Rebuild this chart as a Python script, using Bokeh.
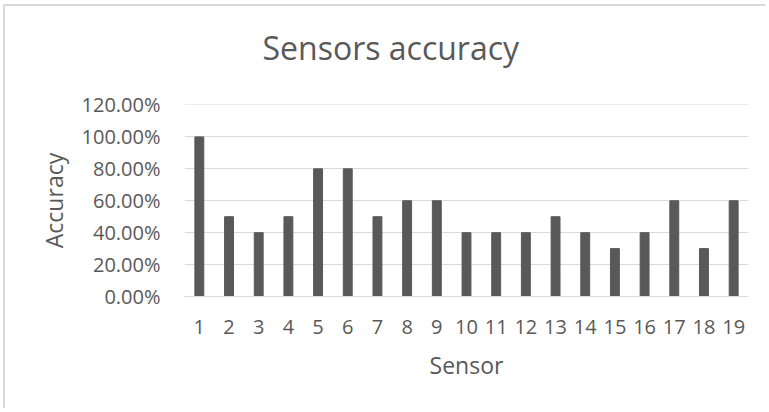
from bokeh.plotting import figure
from bokeh.models import Range1d, FixedTicker, NumeralTickFormatter, Title
from bokeh.embed import file_html
from bokeh.resources import INLINE

sensors = list(range(1, 20))
accuracy = [1.0, 0.5, 0.4, 0.5, 0.8, 0.8, 0.5, 0.6, 0.6, 0.4,
            0.4, 0.4, 0.5, 0.4, 0.3, 0.4, 0.6, 0.3, 0.6]
y_ticks = [0, 0.2, 0.4, 0.6, 0.8, 1.0, 1.2]
title_text = "Sensors accuracy"
x_title = "Sensor"
y_title = "Accuracy"

FONT = "Open Sans"
TXT = "#595959"

p = figure(width=762, height=404, output_backend="svg", toolbar_location=None,
           x_range=Range1d(0.5, 19.5), y_range=Range1d(0, 1.203),
           min_border_left=179, min_border_right=19,
           min_border_top=98, min_border_bottom=114,
           title_location=None)
p.styles = {"border-top": "2px solid #d9d9d9", "border-left": "2px solid #d9d9d9",
            "margin-left": "3px", "margin-top": "4px"}
p.outline_line_color = None
p.background_fill_color = "white"
p.border_fill_color = "white"

# spacer between the frame and the title
p.add_layout(Title(text=" ", text_font_size="1px", standoff=28), "above")
p.add_layout(Title(text=title_text, align="left", offset=78, standoff=10,
                   text_font=FONT, text_font_size="32px",
                   text_font_style="normal", text_color=TXT), "above")

p.vbar(x=sensors, top=accuracy, width=0.30, color="#595959")

p.xaxis.ticker = FixedTicker(ticks=sensors)
p.yaxis.ticker = FixedTicker(ticks=y_ticks)
p.yaxis.formatter = NumeralTickFormatter(format="0.00%")

for ax in (p.xaxis[0], p.yaxis[0]):
    ax.major_tick_line_color = None
    ax.minor_tick_line_color = None
    ax.major_label_text_font = FONT
    ax.major_label_text_font_size = "20px"
    ax.major_label_text_color = TXT
    ax.axis_label_text_font = FONT
    ax.axis_label_text_font_size = "23px"
    ax.axis_label_text_font_style = "normal"
    ax.axis_label_text_color = TXT

p.xaxis.axis_label = x_title
p.yaxis.axis_label = y_title
p.xaxis.axis_line_color = "#d9d9d9"
p.yaxis.axis_line_color = None
p.xaxis.major_label_standoff = 17
p.xaxis.axis_label_standoff = 12
p.yaxis.major_label_standoff = 18
p.yaxis.axis_label_standoff = 9

p.xgrid.grid_line_color = None
p.ygrid.grid_line_color = "#d9d9d9"
p.ygrid.grid_line_width = 1

open("out.html", "w").write(file_html(p, INLINE))
